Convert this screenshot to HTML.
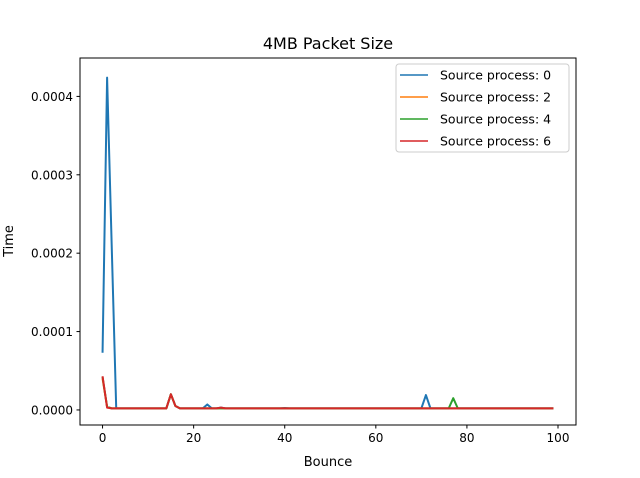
<!DOCTYPE html>
<html><head><meta charset="utf-8"><style>
body{margin:0;background:#fff;}
svg{display:block;font-family:"DejaVu Sans","Liberation Sans",sans-serif;}
</style></head><body>
<svg id="chart" width="640" height="478" viewBox="0 0 640 478">
<rect width="640" height="478" fill="#fff"/>
<text x="328" y="49" text-anchor="middle" font-size="16">4MB Packet Size</text>
<g id="plot"></g>
<text x="328" y="466" text-anchor="middle" font-size="13">Bounce</text>
<text transform="translate(13,241) rotate(-90)" text-anchor="middle" font-size="13">Time</text>
</svg>
<script>
const categories = Array.from({length:100},(_,i)=>i);
// values in units of 1e-6 seconds
const source0 = [73,424,212,2,2,2,2,2,2,2, 2,2,2,2,2,20,5,2,2,2, 2,2,2,7,2,2,3,2,2,2, 2,2,2,2,2,2,2,2,2,2, 2.5,2,2,2,2,2,2,2,2,2, 2,2,2,2,2,2,2,2,2,2, 2,2,2,2,2,2,2,2,2,2, 2,19,2,2,2,2,2,2,2,2, 2,2,2,2,2,2,2,2,2,2, 2,2,2,2,2,2,2,2,2,2];
const source2 = [40,4,2,2,2,2,2,2,2,2, 2,2,2,2,2,20,5,2,2,2, 2,2,2,2,2,2,2,2,2,2, 2,2,2,2,2,2,2,2,2,2, 2,2,2,2,2,2,2,2,2,2, 2,2,2,2,2,2,2,2,2,2, 2,2,2,2,2,2,2,2,2,2, 2,2,2,2,2,2,2,2,2,2, 2,2,2,2,2,2,2,2,2,2, 2,2,2,2,2,2,2,2,2,2];
const source4 = [42,4,2,2,2,2,2,2,2,2, 2,2,2,2,2,20,5,2,2,2, 2,2,2,2,2,2,2,2,2,2, 2,2,2,2,2,2,2,2,2,2, 2,2,2,2,2,2,2,2,2,2, 2,2,2,2,2,2,2,2,2,2, 2,2,2,2,2,2,2,2,2,2, 2,2,2,2,2,2,2,15,2,2, 2,2,2,2,2,2,2,2,2,2, 2,2,2,2,2,2,2,2,2,2];
const source6 = [43,3,2,2,2,2,2,2,2,2, 2,2,2,2,2,20,5,2,2,2, 2,2,2,2,2,2,3,2,2,2, 2,2,2,2,2,2,2,2,2,2, 2,2,2,2,2,2,2,2,2,2, 2,2,2,2,2,2,2,2,2,2, 2,2,2,2,2,2,2,2,2,2, 2,2,2,2,2,2,2,2,2,2, 2,2,2,2,2,2,2,2,2,2, 2,2,2,2,2,2,2,2,2,2];
const seriesNames = ["Source process: 0","Source process: 2","Source process: 4","Source process: 6"];
const xTicks = [0,20,40,60,80,100];
const yTicks = [0,0.0001,0.0002,0.0003,0.0004];
const yTickLabels = ["0.0000","0.0001","0.0002","0.0003","0.0004"];

const L=80,R=576,T=58,B=425;
const xMin=-4.95,xMax=103.95,yMin=-0.0000192,yMax=0.000449;
const xs=v=>L+(v-xMin)/(xMax-xMin)*(R-L);
const ys=v=>B-(v-yMin)/(yMax-yMin)*(B-T);
const NS="http://www.w3.org/2000/svg";
const plot=document.getElementById('plot');
function mk(t,a){const e=document.createElementNS(NS,t);for(const k in a)e.setAttribute(k,a[k]);plot.appendChild(e);return e;}

const series=[source0,source2,source4,source6];
const colors=["#1f77b4","#ff7f0e","#2ca02c","#d62728"];
series.forEach((s,i)=>{
  const d=s.map((v,j)=>(j?'L':'M')+xs(categories[j]).toFixed(2)+','+ys(v*1e-6).toFixed(2)).join('');
  const p=mk('path',{d:d,fill:'none',stroke:colors[i],'stroke-width':2,'stroke-linejoin':'round'});
  
  
});
const frame=mk('rect',{x:L,y:T,width:R-L,height:B-T,fill:'none',stroke:'#000','stroke-width':1});



xTicks.forEach(t=>{
  const x=xs(t);
  const ln=mk('line',{x1:x,x2:x,y1:B,y2:B+3.5,stroke:'#000'});
  
  
  const tx=mk('text',{x:x,y:B+17,'text-anchor':'middle','font-size':12});
  tx.textContent=t;
  
  
});
yTicks.forEach((t,i)=>{
  const y=ys(t);
  const ln=mk('line',{x1:L-3.5,x2:L,y1:y,y2:y,stroke:'#000'});
  
  
  const tx=mk('text',{x:L-7,y:y+4.5,'text-anchor':'end','font-size':12});
  tx.textContent=yTickLabels[i];
  
  
});

const lg=mk('rect',{x:396,y:64,width:173,height:88,rx:3,fill:'#fff','fill-opacity':0.8,stroke:'#ccc'});


seriesNames.forEach((n,i)=>{
  const y=75+i*22;
  const ln=mk('line',{x1:400,x2:428,y1:y,y2:y,stroke:colors[i],'stroke-width':1.5});
  
  
  const tx=mk('text',{x:440,y:y+4.5,'font-size':12.5});
  tx.textContent=n;
  
  
});
</script>
</body></html>
